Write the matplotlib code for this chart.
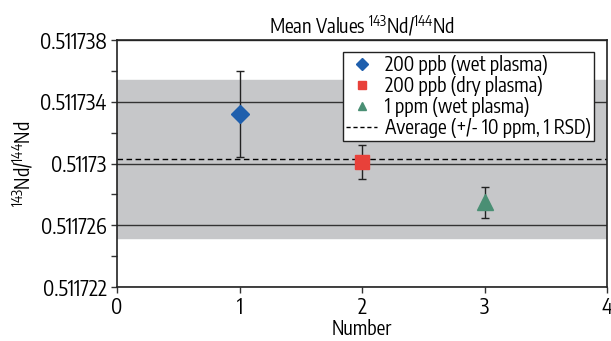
import matplotlib
matplotlib.use("Agg")
import matplotlib.pyplot as plt
from matplotlib import font_manager
from matplotlib.ticker import FixedLocator, FormatStrFormatter
from matplotlib.lines import Line2D

# pick a narrow sans face if one is installed
narrow = None
for f in font_manager.fontManager.ttflist:
    if ('Narrow' in f.name or 'Condensed' in f.name) and 'Sans' in f.name:
        narrow = f.name
        break
family = narrow or 'Liberation Sans'
plt.rcParams['font.family'] = [family, 'DejaVu Sans']
plt.rcParams['mathtext.fontset'] = 'custom'
plt.rcParams['mathtext.rm'] = family

# Measured 143Nd/144Nd ratios with 1 SD error bars
labels = ['200 ppb (wet plasma)', '200 ppb (dry plasma)', '1 ppm (wet plasma)']
numbers = [1, 2, 3]
ratios = [0.5117332, 0.5117301, 0.5117275]
errors = [0.0000028, 0.0000011, 0.0000010]
colors = ['#1f5fad', '#e8413a', '#4a8f74']
markers = ['D', 's', '^']
sizes = [9, 10, 11]
y_major = [0.511722, 0.511726, 0.511730, 0.511734, 0.511738]
y_minor = [0.511724, 0.511728, 0.511732, 0.511736]

average = 0.5117303
band = average * 10e-6   # +/- 10 ppm

fig = plt.figure(figsize=(6.11, 3.41), dpi=100)
ax = fig.add_axes([0.1915, 0.158, 0.802, 0.725])

ax.axhspan(average - band, average + band, color='#c6c7c9', zorder=0)
ax.axhline(average, color='black', linestyle='--', linewidth=1, dashes=(4, 2.5), zorder=2)

for n, r, e, c, m, s in zip(numbers, ratios, errors, colors, markers, sizes):
    ax.errorbar(n, r, yerr=e, fmt='none', ecolor='#222222', elinewidth=1, capsize=3, capthick=1, zorder=3)
    ax.plot(n, r, marker=m, color=c, markersize=s, linestyle='none', zorder=4)

ax.set_xlim(0, 4)
ax.set_ylim(0.511722, 0.511738)
ax.set_xticks([0, 1, 2, 3, 4])
ax.yaxis.set_major_locator(FixedLocator(y_major))
ax.yaxis.set_minor_locator(FixedLocator(y_minor))
ax.yaxis.set_major_formatter(FormatStrFormatter('%g'))
ax.yaxis.grid(True, which='major', color='#333333', linewidth=1, zorder=1)
ax.tick_params(axis='both', which='major', labelsize=15, length=4, width=1, color='#333333')
ax.tick_params(axis='x', pad=3)
ax.tick_params(axis='y', which='minor', length=4, width=1, color='#333333')
for sp in ax.spines.values():
    sp.set_color('#222222')
    sp.set_linewidth(1.2)

ax.set_xlabel('Number', fontsize=14, labelpad=0)
ax.set_ylabel(r'$^{143}$Nd/$^{144}$Nd', fontsize=14, labelpad=3)
ax.set_title(r'Mean Values $^{143}$Nd/$^{144}$Nd', fontsize=14, pad=4)

handles = [Line2D([], [], marker=m, color=c, linestyle='none', markersize=6)
           for c, m in zip(colors, markers)]
handles.append(Line2D([], [], color='black', linestyle='--', linewidth=1, dashes=(3, 2)))
leg = ax.legend(handles, labels + ['Average (+/- 10 ppm, 1 RSD)'], loc='upper right',
                fontsize=14, frameon=True, fancybox=False, borderpad=0.15,
                labelspacing=0.05, handlelength=1.6, handletextpad=0.4,
                bbox_to_anchor=(0.993, 0.99))
leg.get_frame().set_edgecolor('#222222')
leg.get_frame().set_linewidth(1)
leg.get_frame().set_alpha(1)

fig.savefig('out.png', dpi=100)
